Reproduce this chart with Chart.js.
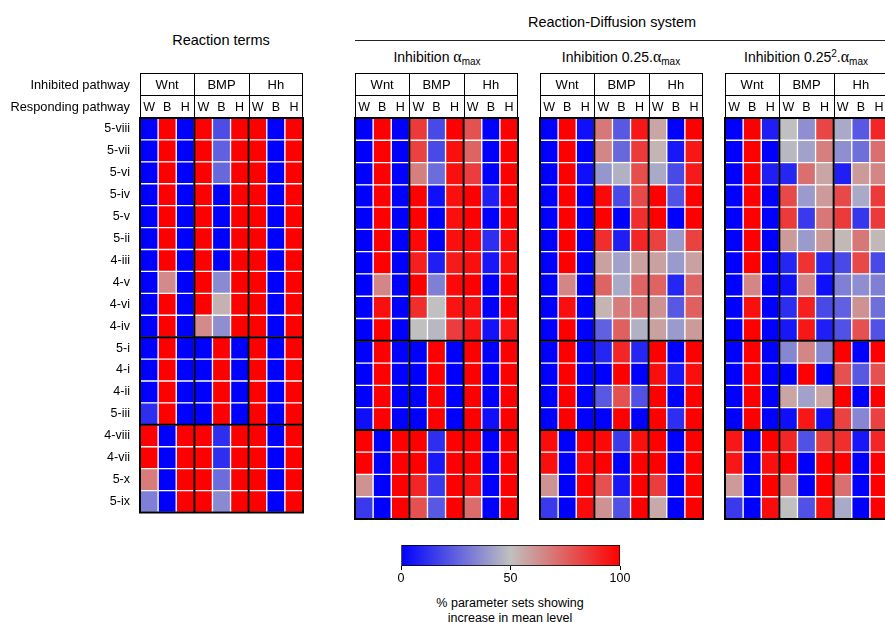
<!DOCTYPE html>
<html>
<head>
<meta charset="utf-8">
<script src="https://cdn.jsdelivr.net/npm/chart.js@4.4.1/dist/chart.umd.min.js"></script>
<style>
  html, body { margin: 0; padding: 0; background: #fff; }
  body { width: 885px; height: 622px; position: relative; overflow: hidden;
         font-family: "Liberation Sans", Arial, sans-serif; color: #000; }
  canvas { position: absolute; }
  .lbl { position: absolute; white-space: nowrap; transform: translate(-50%, -50%); font-size: 14.5px; }
  .lbl.sm { font-size: 14px; }
  .lbl .a { font-family: "Liberation Serif", "DejaVu Serif", serif; font-size: 16px; }
  .lbl sub { font-size: 10px; vertical-align: -3px; }
  .lbl sup { font-size: 10px; vertical-align: 5px; }
  .rule { position: absolute; left: 355px; top: 40px; width: 540px; height: 1px; background: #222; }
  .cb { position: absolute; white-space: nowrap; transform: translate(-50%, -50%); font-size: 12.5px; }
</style>
</head>
<body>

<div class="lbl" style="left:221px; top:40px;">Reaction terms</div>
<div class="lbl" style="left:612px; top:22px;">Reaction-Diffusion system</div>
<div class="rule"></div>
<div class="lbl sm" style="left:437px; top:57px;">Inhibition <span class="a">α</span><sub>max</sub></div>
<div class="lbl sm" style="left:621px; top:57px;">Inhibition 0.25.<span class="a">α</span><sub>max</sub></div>
<div class="lbl sm" style="left:806px; top:57px;">Inhibition 0.25<sup>2</sup>.<span class="a">α</span><sub>max</sub></div>

<canvas id="p1" width="315" height="470" style="left:0px; top:60px;"></canvas>
<canvas id="p2" width="187" height="470" style="left:343px; top:60px;"></canvas>
<canvas id="p3" width="187" height="470" style="left:528px; top:60px;"></canvas>
<canvas id="p4" width="187" height="470" style="left:713px; top:60px;"></canvas>

<canvas id="cbar" width="262" height="52" style="left:380px; top:535px;"></canvas>
<div class="cb" style="left:510px; top:603px;">% parameter sets showing</div>
<div class="cb" style="left:510px; top:618px;">increase in mean level</div>

<script>
// row and column labels
var rowLabels = ['5-viii', '5-vii', '5-vi', '5-iv', '5-v', '5-ii', '4-iii', '4-v', '4-vi', '4-iv',
                 '5-i', '4-i', '4-ii', '5-iii', '4-viii', '4-vii', '5-x', '5-ix'];
var inhibited = ['Wnt', 'BMP', 'Hh'];
var responding = ['W', 'B', 'H'];
var rowBreaks = [10, 14];
var scaleTicks = [0, 50, 100];

// % of parameter sets with increased mean level; columns Wnt(W,B,H) BMP(W,B,H) Hh(W,B,H)
var reactionTerms = [
  [0, 100, 0, 100, 20, 100, 100, 0, 100],
  [0, 100, 0, 100, 25, 100, 100, 0, 100],
  [0, 100, 0, 100, 27, 100, 100, 0, 100],
  [0, 100, 0, 100, 0, 100, 100, 0, 100],
  [0, 100, 0, 100, 0, 100, 100, 0, 100],
  [0, 100, 0, 100, 0, 100, 100, 0, 100],
  [0, 100, 0, 100, 0, 100, 100, 0, 100],
  [0, 64, 0, 100, 36, 100, 100, 0, 100],
  [0, 100, 0, 100, 54, 100, 100, 0, 100],
  [0, 100, 0, 64, 37, 100, 100, 0, 100],
  [0, 100, 0, 0, 100, 0, 100, 0, 100],
  [0, 100, 0, 0, 100, 0, 100, 0, 100],
  [0, 100, 0, 0, 100, 0, 100, 0, 100],
  [12, 100, 0, 0, 100, 0, 100, 0, 100],
  [100, 0, 100, 100, 12, 100, 100, 0, 100],
  [100, 0, 100, 100, 12, 100, 100, 0, 100],
  [68, 0, 100, 100, 28, 100, 100, 0, 100],
  [33, 0, 100, 100, 36, 100, 100, 0, 100]
];

var inhibAlpha = [
  [0, 100, 0, 85, 19, 100, 79, 0, 100],
  [0, 100, 0, 83, 19, 96, 74, 0, 100],
  [0, 100, 0, 67, 28, 96, 84, 0, 100],
  [0, 100, 0, 100, 4, 96, 100, 8, 100],
  [0, 100, 0, 100, 0, 96, 100, 0, 100],
  [0, 100, 0, 98, 0, 96, 98, 12, 97],
  [0, 100, 0, 92, 8, 93, 96, 6, 96],
  [0, 65, 0, 100, 33, 98, 100, 0, 100],
  [0, 96, 0, 88, 50, 95, 96, 0, 100],
  [0, 100, 0, 50, 48, 84, 95, 5, 95],
  [0, 100, 0, 0, 100, 0, 100, 0, 100],
  [0, 100, 0, 0, 100, 0, 100, 0, 100],
  [0, 100, 0, 0, 100, 0, 100, 0, 100],
  [4, 100, 0, 0, 100, 0, 100, 4, 100],
  [100, 0, 100, 100, 12, 100, 100, 0, 100],
  [100, 0, 100, 100, 6, 100, 100, 0, 100],
  [62, 0, 100, 90, 15, 100, 96, 0, 100],
  [15, 0, 100, 79, 23, 100, 72, 0, 100]
];

var inhib025 = [
  [0, 100, 4, 69, 23, 94, 57, 0, 100],
  [0, 100, 0, 65, 27, 85, 53, 6, 94],
  [0, 100, 4, 39, 46, 80, 44, 19, 93],
  [0, 100, 0, 98, 19, 81, 100, 21, 100],
  [0, 100, 0, 100, 0, 88, 100, 0, 100],
  [0, 100, 0, 88, 8, 90, 83, 40, 83],
  [0, 100, 0, 58, 42, 58, 58, 40, 58],
  [0, 65, 0, 74, 44, 74, 74, 10, 74],
  [0, 96, 0, 53, 68, 70, 62, 23, 75],
  [0, 100, 0, 25, 75, 46, 58, 40, 60],
  [0, 100, 0, 10, 90, 10, 100, 0, 100],
  [0, 100, 0, 0, 100, 0, 96, 6, 96],
  [0, 100, 0, 23, 79, 21, 100, 0, 100],
  [0, 100, 0, 0, 100, 0, 100, 12, 100],
  [97, 0, 100, 98, 15, 96, 100, 0, 100],
  [96, 0, 98, 100, 0, 100, 100, 0, 100],
  [62, 0, 100, 79, 6, 100, 84, 0, 100],
  [15, 0, 97, 62, 21, 100, 56, 0, 100]
];

var inhib0625 = [
  [0, 100, 8, 50, 37, 82, 44, 23, 90],
  [0, 100, 0, 48, 42, 67, 37, 29, 71],
  [0, 100, 8, 10, 71, 57, 8, 60, 65],
  [0, 100, 0, 81, 40, 60, 81, 44, 85],
  [0, 100, 0, 85, 15, 69, 85, 14, 85],
  [0, 100, 0, 60, 40, 60, 52, 69, 52],
  [0, 100, 0, 10, 87, 10, 19, 81, 19],
  [0, 65, 0, 4, 65, 4, 33, 37, 33],
  [0, 96, 0, 12, 92, 19, 25, 62, 29],
  [0, 100, 0, 6, 94, 8, 21, 79, 21],
  [0, 100, 0, 35, 65, 35, 100, 0, 100],
  [0, 100, 0, 0, 100, 0, 79, 23, 79],
  [0, 100, 0, 57, 42, 57, 100, 0, 100],
  [0, 100, 0, 4, 94, 4, 83, 35, 83],
  [94, 0, 100, 90, 21, 85, 88, 6, 90],
  [94, 0, 96, 100, 0, 100, 100, 0, 100],
  [60, 0, 100, 69, 0, 100, 71, 0, 100],
  [15, 0, 97, 50, 21, 96, 44, 0, 100]
];

var FONT = '"Liberation Sans", Arial, sans-serif';

// blue -> grey -> red
function heat(v) {
  var r, g, b, t;
  if (v <= 50) {
    t = v / 50;
    r = g = 192 * t;
    b = 255 - 63 * t;
  } else {
    t = (v - 50) / 50;
    r = 192 + 63 * t;
    g = b = 192 * (1 - t);
  }
  return 'rgb(' + Math.round(r) + ',' + Math.round(g) + ',' + Math.round(b) + ')';
}

function line(ctx, x1, y1, x2, y2) {
  ctx.beginPath();
  ctx.moveTo(x1, y1);
  ctx.lineTo(x2, y2);
  ctx.stroke();
}

// group borders over the cells and the two-row header box above them
var panelGrid = {
  id: 'panelGrid',
  afterDatasetsDraw: function(chart, args, opts) {
    var ctx = chart.ctx, a = chart.chartArea;
    var x = chart.scales.x, y = chart.scales.y;
    var n = rowLabels.length;
    var rowEdge = function(k) {
      if (k <= 0) return a.top;
      if (k >= n) return a.bottom;
      return (y.getPixelForValue(k - 1) + y.getPixelForValue(k)) / 2;
    };

    ctx.save();
    ctx.strokeStyle = '#000';
    ctx.lineWidth = 2;
    [0, 3, 6, 9].forEach(function(c) {
      var px = x.getPixelForValue(c);
      line(ctx, px, a.top, px, a.bottom);
    });
    [0].concat(rowBreaks, [n]).forEach(function(k) {
      var py = rowEdge(k);
      line(ctx, a.left - 1, py, a.right + 1, py);
    });

    // header
    var h0 = a.top - 45, h1 = a.top - 23, h2 = a.top;
    ctx.lineWidth = 1;
    var l = Math.round(x.getPixelForValue(0)) + 0.5, r = Math.round(x.getPixelForValue(9)) - 0.5;
    line(ctx, l, h0 + 0.5, r, h0 + 0.5);
    line(ctx, l, h1 + 0.5, r, h1 + 0.5);
    [0, 3, 6, 9].forEach(function(c) {
      var px = Math.round(x.getPixelForValue(c)) + (c === 9 ? -0.5 : 0.5);
      line(ctx, px, h0, px, h2);
    });

    ctx.fillStyle = '#000';
    ctx.textAlign = 'center';
    ctx.textBaseline = 'middle';
    ctx.font = '13px ' + FONT;
    inhibited.forEach(function(name, g) {
      ctx.fillText(name, x.getPixelForValue(g * 3 + 1.5), (h0 + h1) / 2 + 1);
    });
    ctx.font = '12.5px ' + FONT;
    for (var c = 0; c < 9; c++) {
      ctx.fillText(responding[c % 3], x.getPixelForValue(c + 0.5), (h1 + h2) / 2 + 1);
    }

    if (opts.rowTitles) {
      ctx.textAlign = 'right';
      ctx.font = '12.8px ' + FONT;
      ctx.fillText('Inhibited pathway', a.left - 10, (h0 + h1) / 2 + 1);
      ctx.fillText('Responding pathway', a.left - 10, (h1 + h2) / 2 + 1);
    }
    ctx.restore();
  }
};

function drawPanel(id, values, withRows) {
  var datasets = [];
  for (var j = 0; j < 9; j++) {
    datasets.push({
      data: rowLabels.map(function() { return 1; }),
      backgroundColor: values.map(function(row) { return heat(row[j]); }),
      borderColor: '#fff',
      borderWidth: 1,
      borderSkipped: false,
      categoryPercentage: 1,
      barPercentage: 1
    });
  }

  var yAxis = {
    stacked: true,
    display: withRows,
    grid: { display: false, drawTicks: false },
    border: { display: false },
    ticks: { color: '#000', padding: 10, font: { size: 12.5, family: FONT } }
  };
  if (withRows) {
    yAxis.afterFit = function(scale) { scale.width = 140; };
  }

  return new Chart(document.getElementById(id), {
    type: 'bar',
    data: { labels: rowLabels, datasets: datasets },
    options: {
      indexAxis: 'y',
      responsive: false,
      animation: false,
      events: [],
      layout: { padding: { top: 58, bottom: 11, left: withRows ? 0 : 12, right: 12 } },
      plugins: {
        legend: { display: false },
        tooltip: { enabled: false },
        panelGrid: { rowTitles: withRows }
      },
      scales: {
        x: { type: 'linear', stacked: true, min: 0, max: 9, display: false },
        y: yAxis
      }
    },
    plugins: [panelGrid]
  });
}

drawPanel('p1', reactionTerms, true);
drawPanel('p2', inhibAlpha, false);
drawPanel('p3', inhib025, false);
drawPanel('p4', inhib0625, false);

// colour scale bar
new Chart(document.getElementById('cbar'), {
  type: 'bar',
  data: {
    labels: [''],
    datasets: [{
      data: [[scaleTicks[0], scaleTicks[2]]],
      backgroundColor: function(context) {
        var chart = context.chart, xs = chart.scales.x;
        if (!chart.chartArea || !xs) return heat(50);
        var grad = chart.ctx.createLinearGradient(xs.getPixelForValue(0), 0, xs.getPixelForValue(100), 0);
        scaleTicks.forEach(function(v) { grad.addColorStop(v / 100, heat(v)); });
        return grad;
      },
      borderColor: '#000',
      borderWidth: 1,
      borderSkipped: false,
      categoryPercentage: 1,
      barPercentage: 1
    }]
  },
  options: {
    indexAxis: 'y',
    responsive: false,
    animation: false,
    events: [],
    layout: { padding: { top: 10, left: 21, right: 22, bottom: 0 } },
    plugins: { legend: { display: false }, tooltip: { enabled: false } },
    scales: {
      x: {
        type: 'linear', min: 0, max: 100,
        grid: { drawOnChartArea: false, tickLength: 4, color: '#000' },
        border: { display: false },
        ticks: { stepSize: 50, color: '#000', padding: 1, font: { size: 12.5, family: FONT } }
      },
      y: { display: false }
    }
  }
});
</script>
</body>
</html>
